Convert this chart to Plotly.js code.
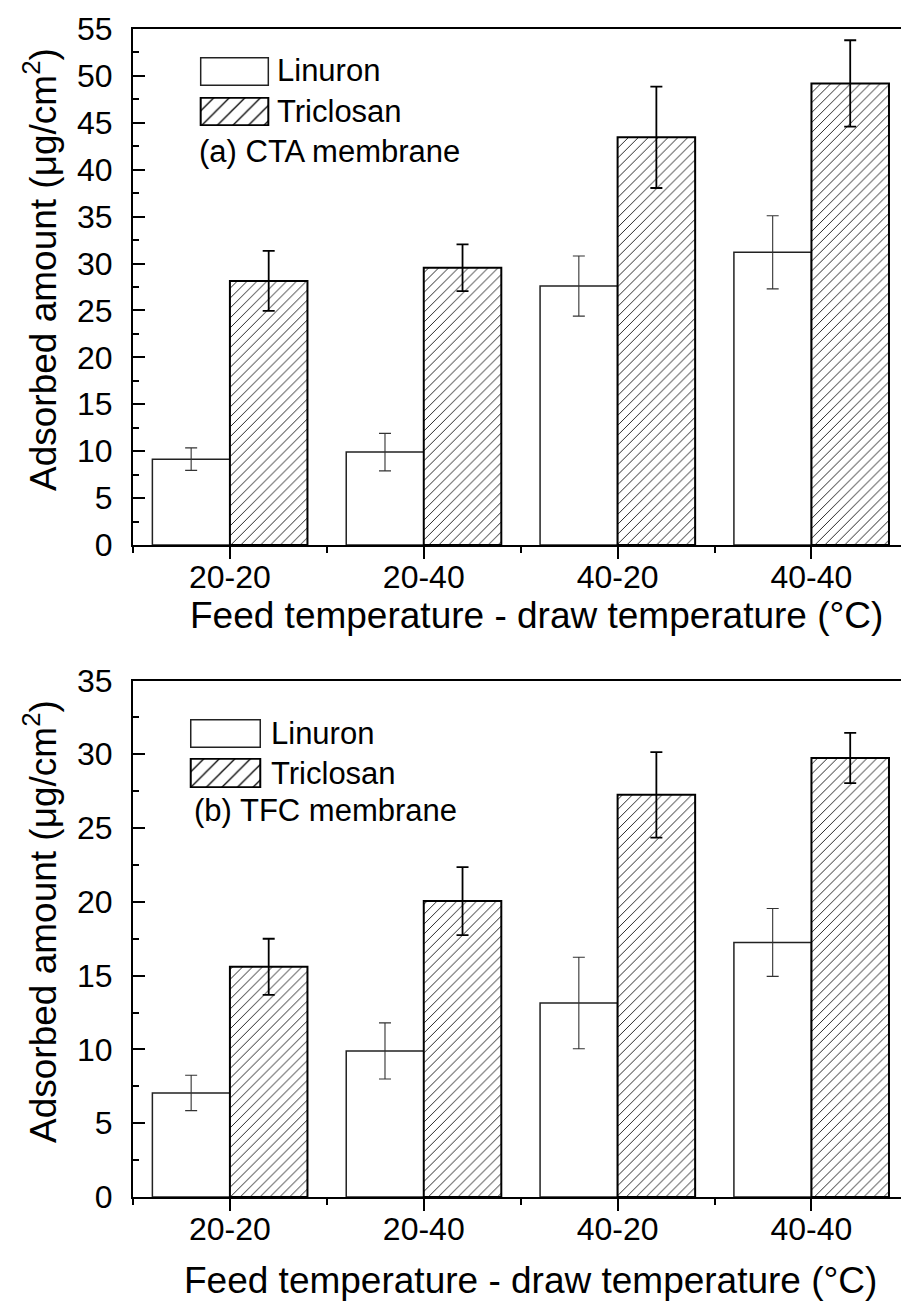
<!DOCTYPE html>
<html><head><meta charset="utf-8">
<script src="https://cdn.plot.ly/plotly-3.0.1.min.js"></script>
<style>html,body{margin:0;padding:0;background:#fff}#chart{width:901px;height:1302px}</style>
</head><body><div id="chart"></div>
<script>
// ---- data ----
const categories = ['20-20', '20-40', '40-20', '40-40'];
const seriesNames = ['Linuron', 'Triclosan'];
const ctaLinuron = [9.15, 9.9, 27.6, 31.2];
const ctaLinuronErr = [1.2, 2.0, 3.2, 3.9];
const ctaTriclosan = [28.15, 29.55, 43.45, 49.2];
const ctaTriclosanErr = [3.2, 2.5, 5.4, 4.6];
const tfcLinuron = [7.05, 9.9, 13.15, 17.25];
const tfcLinuronErr = [1.2, 1.9, 3.1, 2.3];
const tfcTriclosan = [15.6, 20.05, 27.25, 29.75];
const tfcTriclosanErr = [1.9, 2.3, 2.9, 1.7];
const swatchValue = [1];
const panelLabels = ['(a) CTA membrane', '(b) TFC membrane'];
const xTitle = 'Feed temperature - draw temperature (°C)';
const yTitle = 'Adsorbed amount (μg/cm<sup>2</sup>)';

// ---- helpers ----
const FONT = 'Liberation Sans, Arial, Helvetica, sans-serif';
const xIdx = categories.map((c, i) => i);
const boundaries = categories.map((c, i) => i - 0.5);

function linuronTrace(vals, errs, xa, ya) {
  return {
    type: 'bar', name: seriesNames[0], x: xIdx, y: vals, xaxis: xa, yaxis: ya,
    marker: {color: 'white', line: {color: '#222', width: 1.5}},
    error_y: {type: 'data', array: errs, visible: true, color: '#333', thickness: 1.1, width: 6},
    showlegend: false
  };
}
function triclosanTrace(vals, errs, xa, ya, psize) {
  return {
    type: 'bar', name: seriesNames[1], x: xIdx, y: vals, xaxis: xa, yaxis: ya,
    marker: {color: 'white', line: {color: '#000', width: 2},
      pattern: {shape: '/', fgcolor: '#000', bgcolor: 'white', size: psize || 7, solidity: 0.12, fillmode: 'replace'}},
    error_y: {type: 'data', array: errs, visible: true, color: '#000', thickness: 1.8, width: 6},
    showlegend: false
  };
}
function swatch(isHatch, xa, ya) {
  const t = isHatch ? triclosanTrace(swatchValue, null, xa, ya, 11) : linuronTrace(swatchValue, null, xa, ya);
  t.x = [0]; delete t.error_y; t.hoverinfo = 'skip';
  return t;
}

const data = [
  linuronTrace(ctaLinuron, ctaLinuronErr, 'x', 'y'),
  triclosanTrace(ctaTriclosan, ctaTriclosanErr, 'x', 'y'),
  linuronTrace(tfcLinuron, tfcLinuronErr, 'x2', 'y2'),
  triclosanTrace(tfcTriclosan, tfcTriclosanErr, 'x2', 'y2'),
  swatch(false, 'x3', 'y3'),
  swatch(true, 'x4', 'y4'),
  swatch(false, 'x5', 'y5'),
  swatch(true, 'x6', 'y6')
];

const W = 901, H = 1302, ML = 133, MR = 0, MT = 29, MB = 105;
const PW = W - ML - MR, PH = H - MT - MB;
const px = v => (v - ML) / PW;          // pixel x -> paper
const py = v => (H - MB - v) / PH;      // pixel y -> paper

function xAxis(anchor) {
  return {
    anchor: anchor, domain: [0, 1], type: 'linear', range: [-0.5, 3.462],
    tickmode: 'array', tickvals: xIdx, ticktext: categories,
    ticks: 'outside', ticklen: 12, tickwidth: 2, tickcolor: '#000',
    minor: {tickmode: 'array', tickvals: boundaries, ticks: 'outside', ticklen: 6, tickwidth: 2, tickcolor: '#000'},
    showline: true, linecolor: '#000', linewidth: 2, mirror: true,
    showgrid: false, zeroline: false,
    tickfont: {family: FONT, size: 32, color: '#000'}, ticklabelstandoff: -9
  };
}
function yAxis(anchor, domain, maxv) {
  return {
    anchor: anchor, domain: domain, range: [0, maxv], dtick: 5, tick0: 0,
    ticks: 'inside', ticklen: 12, tickwidth: 2, tickcolor: '#000',
    minor: {dtick: 2.5, ticks: 'inside', ticklen: 6, tickwidth: 2, tickcolor: '#000'},
    showline: true, linecolor: '#000', linewidth: 2,
    showgrid: false, zeroline: false,
    tickfont: {family: FONT, size: 32, color: '#000'}, ticklabelstandoff: 12
  };
}
function hidden(anchor, domain, range) {
  return {anchor: anchor, domain: domain, range: range, visible: false, fixedrange: true};
}
function note(text, xpix, ypix, size, anchor, angle) {
  return {text: text, x: px(xpix), y: py(ypix), xref: 'paper', yref: 'paper',
    xanchor: anchor, yanchor: 'middle', textangle: angle || 0, showarrow: false,
    font: {family: FONT, size: size, color: '#000'}};
}

const layout = {
  width: W, height: H,
  margin: {l: ML, r: MR, t: MT, b: MB, pad: 0},
  paper_bgcolor: 'white', plot_bgcolor: 'white',
  barmode: 'group', bargap: 0.2, bargroupgap: 0,
  showlegend: false,
  font: {family: FONT, color: '#000'},
  xaxis: xAxis('y'),
  yaxis: yAxis('x', [py(545), 1], 55),
  xaxis2: xAxis('y2'),
  yaxis2: yAxis('x2', [0, py(680.5)], 35),
  // legend swatches
  xaxis3: hidden('y3', [px(199), px(270)], [-0.42, 0.42]),
  yaxis3: hidden('x3', [py(86), py(57)], [-0.03, 1.03]),
  xaxis4: hidden('y4', [px(199), px(270)], [-0.42, 0.42]),
  yaxis4: hidden('x4', [py(126), py(97)], [-0.03, 1.03]),
  xaxis5: hidden('y5', [px(189), px(262)], [-0.42, 0.42]),
  yaxis5: hidden('x5', [py(748), py(719)], [-0.03, 1.03]),
  xaxis6: hidden('y6', [px(189), px(262)], [-0.42, 0.42]),
  yaxis6: hidden('x6', [py(788), py(758)], [-0.03, 1.03]),
  annotations: [
    note(seriesNames[0], 275, 71, 31, 'left'),
    note(seriesNames[1], 275, 111, 31, 'left'),
    note(panelLabels[0], 197, 151, 31, 'left'),
    note(seriesNames[0], 269, 733, 31, 'left'),
    note(seriesNames[1], 269, 773, 31, 'left'),
    note(panelLabels[1], 192, 810, 31, 'left'),
    note(xTitle, 536, 615, 37, 'center'),
    note(xTitle, 530, 1280, 37, 'center'),
    note(yTitle, 40, 270, 37, 'center', -90),
    note(yTitle, 40, 922, 37, 'center', -90)
  ]
};

Plotly.newPlot('chart', data, layout, {staticPlot: true, displayModeBar: false});
</script>
</body></html>
